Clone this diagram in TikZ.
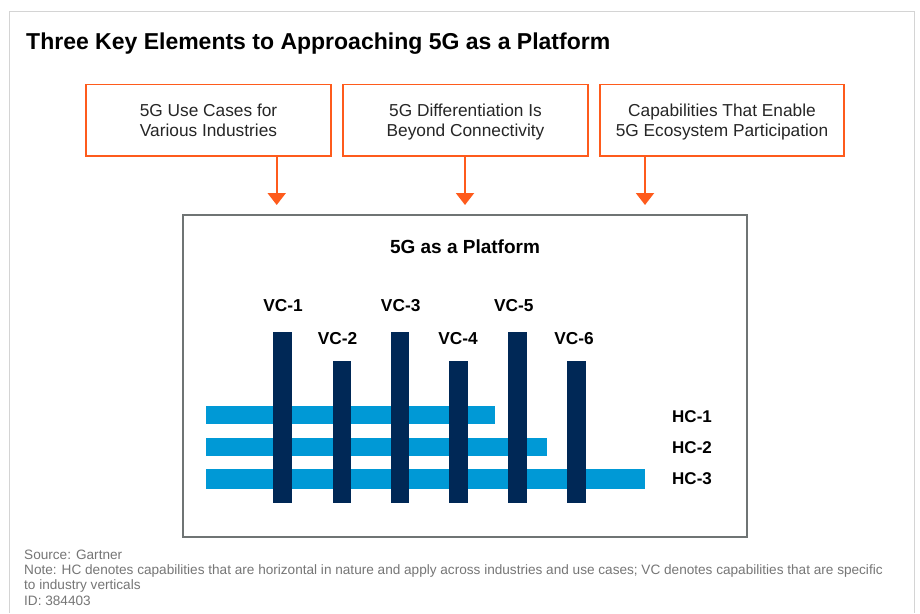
\documentclass[tikz,border=0pt]{standalone}
\usepackage{fontspec}
\setmainfont{Liberation Sans}
\usetikzlibrary{arrows.meta}
\definecolor{gorange}{HTML}{FE5B1C}
\definecolor{gnavy}{HTML}{002856}
\definecolor{gblue}{HTML}{0099D6}
\definecolor{ggray}{HTML}{6F7474}
\definecolor{gframe}{HTML}{D4D4D4}
\definecolor{gnote}{HTML}{767676}
\tikzset{
  topbox/.style={draw=gorange, line width=1.7pt, minimum width=244.4pt, minimum height=71.5pt, inner sep=0pt},
  boxtext/.style={align=center, font=\fontsize{17.3}{20.7}\selectfont, text=black!85, inner sep=0pt},
  flow/.style={draw=gorange, line width=2pt, -{Triangle[width=18pt,length=12pt]}},
  vbar/.style={fill=gnavy},
  hbar/.style={fill=gblue},
  vclabel/.style={font=\fontsize{17.3}{20}\selectfont\bfseries, inner sep=0pt},
  hclabel/.style={font=\fontsize{17}{20}\selectfont\bfseries, inner sep=0pt, anchor=west},
  note/.style={font=\fontsize{13.6}{16}\selectfont, text=gnote, inner sep=0pt, anchor=base west}
}
\begin{document}
\begin{tikzpicture}[x=1pt,y=-1pt]
\useasboundingbox (0,0) rectangle (920,613);
\fill[white] (0,0) rectangle (920,613);
% outer frame
\draw[gframe, line width=1pt] (9.3,613) -- (9.3,11.7) -- (914.3,11.7) -- (914.3,613);
% title
\node[anchor=base west, inner sep=0pt, font=\fontsize{23}{26}\selectfont\bfseries] (title) at (26,49)
  {Three Key Elements to Approaching 5G as a Platform};
% top boxes
\node[topbox] (b1) at (208.5,120.25) {};
\node[topbox] (b2) at (465.5,120.25) {};
\node[topbox] (b3) at (722,120.25) {};
\node[boxtext] (b1t) at (208.5,122.3) {\strut 5G Use Cases for\\\strut Various Industries};
\node[boxtext] (b2t) at (465.5,122.3) {\strut 5G Differentiation Is\\\strut Beyond Connectivity};
\node[boxtext] (b3t) at (722,122.3) {\strut Capabilities That Enable\\\strut 5G Ecosystem Participation};
% main box
\node[draw=ggray, line width=2pt, minimum width=564.6pt, minimum height=322.3pt, inner sep=0pt] (main) at (465,376.15) {};
% arrows
\coordinate (t1) at (276.7,205);
\coordinate (t2) at (465,205);
\coordinate (t3) at (645,205);
\draw[flow] (b1.south -| t1) -- (t1);
\draw[flow] (b2.south -| t2) -- (t2);
\draw[flow] (b3.south -| t3) -- (t3);
% platform title
\node[font=\fontsize{19}{22}\selectfont\bfseries, inner sep=0pt] (plat) at (465,246.7) {5G as a Platform};
% horizontal bars
\fill[hbar] (206,406) rectangle (495,424.3);
\fill[hbar] (206,437.7) rectangle (547.3,456);
\fill[hbar] (206,469.3) rectangle (644.7,488.7);
% vertical bars
\fill[vbar] (273.3,331.7) rectangle ++(18.7,171);
\fill[vbar] (332.7,360.7) rectangle ++(18.7,142);
\fill[vbar] (390.7,331.7) rectangle ++(18.7,171);
\fill[vbar] (449.3,360.7) rectangle ++(18.7,142);
\fill[vbar] (508.3,331.7) rectangle ++(18.7,171);
\fill[vbar] (567,360.7) rectangle ++(18.7,142);
% VC labels
\node[vclabel] (vc1) at (283,306) {VC-1};
\node[vclabel] (vc3) at (400.7,306) {VC-3};
\node[vclabel] (vc5) at (513.8,306) {VC-5};
\node[vclabel] (vc2) at (337.5,338.3) {VC-2};
\node[vclabel] (vc4) at (458,338.3) {VC-4};
\node[vclabel] (vc6) at (574,338.3) {VC-6};
% HC labels
\node[hclabel] (hc1) at (672,416.7) {HC-1};
\node[hclabel] (hc2) at (672,447.3) {HC-2};
\node[hclabel] (hc3) at (672,479) {HC-3};
% footer
\node[note] (src) at (24,559) {Source: Gartner};
\node[note] (nt1) at (24,574.3) {Note: HC denotes capabilities that are horizontal in nature and apply across industries and use cases; VC denotes capabilities that are specific};
\node[note] (nt2) at (24,589.7) {to industry verticals};
\node[note] (id) at (24,605) {ID: 384403};
\end{tikzpicture}
\end{document}
